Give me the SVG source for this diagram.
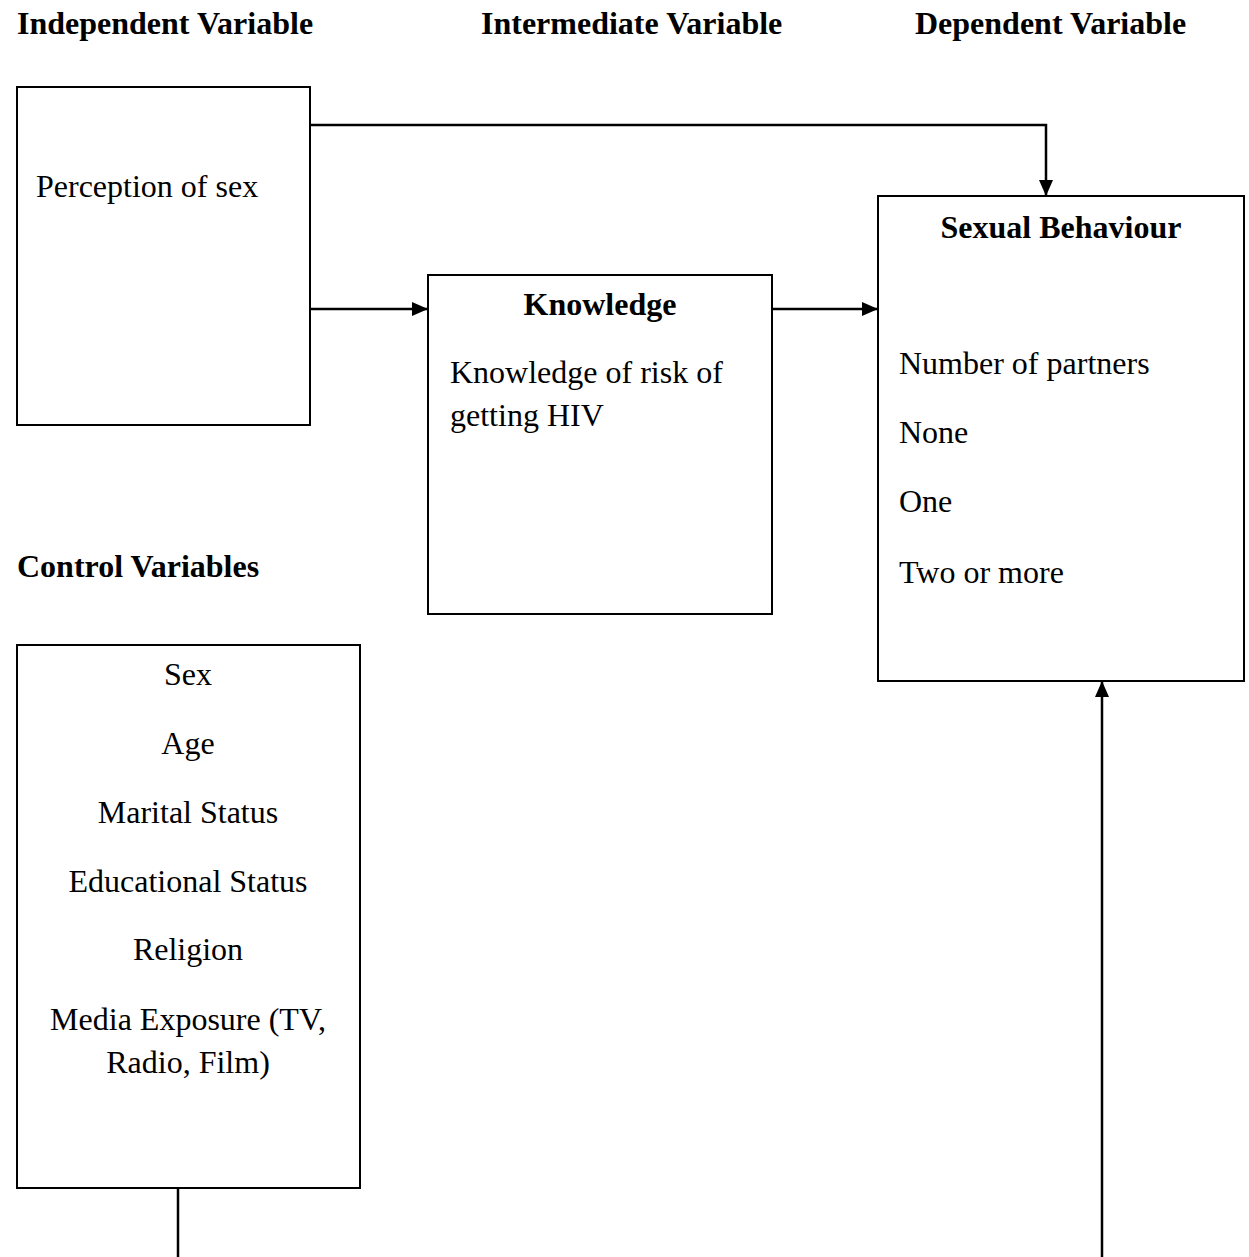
<svg xmlns="http://www.w3.org/2000/svg" width="1249" height="1257" viewBox="0 0 1249 1257">
<style>
text{font-family:"Liberation Serif","Times New Roman",serif;font-size:32px;fill:#000}
.b{font-weight:bold}
.c{text-anchor:middle}
.box{fill:#fff;stroke:#000;stroke-width:2}
.ln{fill:none;stroke:#000;stroke-width:2.5}
</style>
<defs>
<marker id="ah" markerWidth="16" markerHeight="14" refX="16" refY="7" orient="auto" markerUnits="userSpaceOnUse">
<path d="M0,0 L16,7 L0,14 Z" fill="#000"/>
</marker>
</defs>
<rect width="1249" height="1257" fill="#fff"/>
<g id="headings">
<text class="b" x="17" y="34">Independent Variable</text>
<text class="b" x="481" y="34">Intermediate Variable</text>
<text class="b" x="915" y="34">Dependent Variable</text>
<text class="b" x="17" y="577">Control Variables</text>
</g>
<g id="perception">
<rect class="box" x="17" y="87" width="293" height="338"/>
<text x="36" y="197">Perception of sex</text>
</g>
<g id="knowledge">
<rect class="box" x="428" y="275" width="344" height="339"/>
<text class="b c" x="600" y="315">Knowledge</text>
<text x="450" y="383">Knowledge of risk of</text>
<text x="450" y="426">getting HIV</text>
</g>
<g id="behaviour">
<rect class="box" x="878" y="196" width="366" height="485"/>
<text class="b c" x="1061" y="238">Sexual Behaviour</text>
<text x="899" y="374">Number of partners</text>
<text x="899" y="443">None</text>
<text x="899" y="512">One</text>
<text x="899" y="583">Two or more</text>
</g>
<g id="control">
<rect class="box" x="17" y="645" width="343" height="543"/>
<text class="c" x="188" y="685">Sex</text>
<text class="c" x="188" y="754">Age</text>
<text class="c" x="188" y="823">Marital Status</text>
<text class="c" x="188" y="892">Educational Status</text>
<text class="c" x="188" y="960">Religion</text>
<text class="c" x="188" y="1030">Media Exposure (TV,</text>
<text class="c" x="188" y="1073">Radio, Film)</text>
</g>
<g id="connectors">
<path class="ln" d="M310,125 H1046 V196" marker-end="url(#ah)"/>
<path class="ln" d="M310,309 H428" marker-end="url(#ah)"/>
<path class="ln" d="M772,309 H878" marker-end="url(#ah)"/>
<path class="ln" d="M178,1188 V1257"/>
<path class="ln" d="M1102,1257 V681" marker-end="url(#ah)"/>
</g>
</svg>
